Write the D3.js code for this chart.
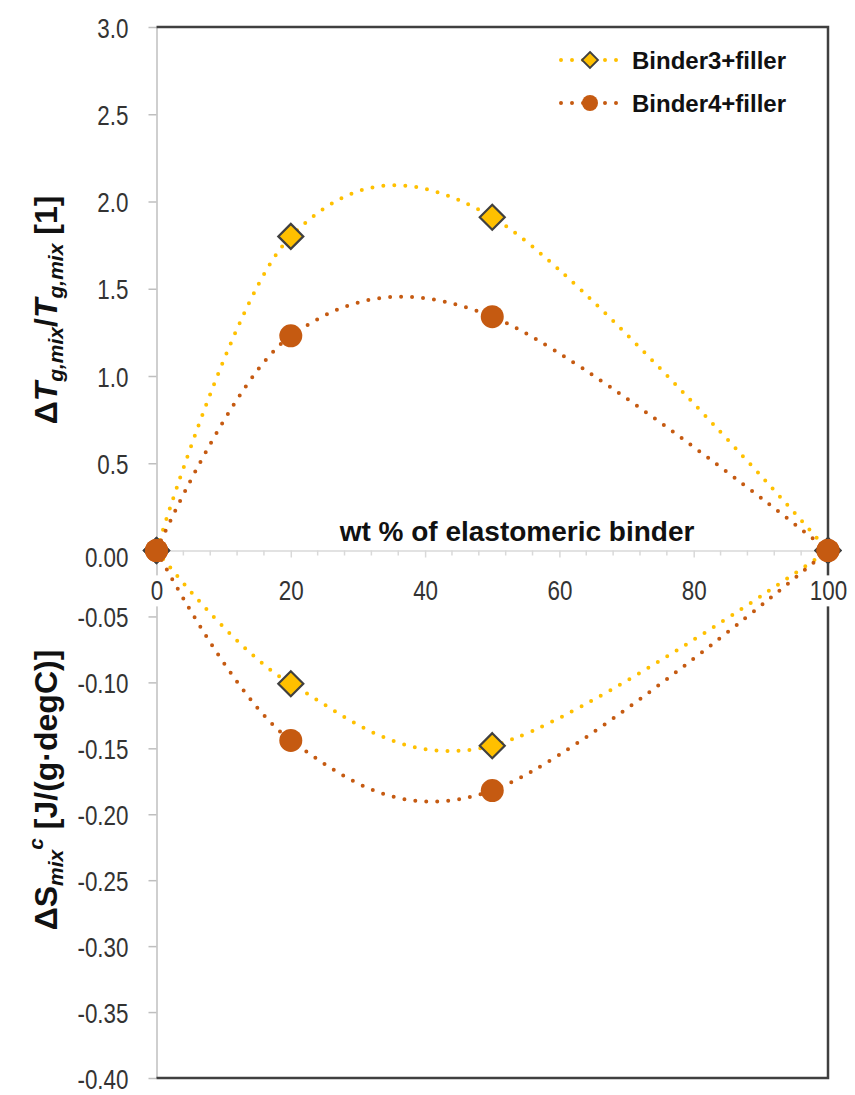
<!DOCTYPE html>
<html>
<head>
<meta charset="utf-8">
<script src="https://cdn.jsdelivr.net/npm/d3@7"></script>
<style>
  html, body { margin: 0; padding: 0; background: #fff; }
  svg { display: block; }
  .tick text { font-family: "Liberation Sans Narrow", "Arial Narrow", "Liberation Sans", Arial, sans-serif; font-size: 28px; fill: #333; }
</style>
</head>
<body>
<svg id="chart" width="855" height="1095"></svg>
<script>
// ---------- data ----------
const seriesNames = ["Binder3+filler", "Binder4+filler"];
const xValues = [0, 20, 50, 100];
const b3Tg = [0, 1.80, 1.91, 0];
const b4Tg = [0, 1.23, 1.34, 0];
const b3S = [0, -0.101, -0.148, 0];
const b4S = [0, -0.144, -0.182, 0];
const xTicks = [0, 20, 40, 60, 80, 100];
const xMinorTicks = [4, 8, 12, 16, 24, 28, 32, 36, 44, 48, 52, 56, 64, 68, 72, 76, 84, 88, 92, 96];
const topTicks = [0.5, 1.0, 1.5, 2.0, 2.5, 3.0];
const bottomTicks = [0, -0.05, -0.10, -0.15, -0.20, -0.25, -0.30, -0.35, -0.40];
const xTitle = "wt % of elastomeric binder";

// ---------- layout ----------
const pLeft = 156.5, pRight = 828, pTop = 27, zeroY = 550.5, pBottom = 1078;
const colors = ["#FFC000", "#C55A11"];

const svg = d3.select("#chart");
const x = d3.scaleLinear().domain([0, 100]).range([pLeft, pRight]);
const yTop = d3.scaleLinear().domain([0, 3]).range([zeroY, pTop]);
const yBot = d3.scaleLinear().domain([-0.4, 0]).range([pBottom, zeroY]);

// condense tick labels (narrow font look)
function condense(sel) {
  sel.each(function () {
    const w = this.getComputedTextLength();
    d3.select(this).attr("textLength", w * 0.8).attr("lengthAdjust", "spacingAndGlyphs");
  });
}

// left axes
const axTop = svg.append("g").attr("transform", `translate(${pLeft},0)`)
  .call(d3.axisLeft(yTop).tickValues(topTicks).tickSize(8).tickSizeOuter(0).tickPadding(20)
    .tickFormat(d => d.toFixed(1)));
const axBot = svg.append("g").attr("transform", `translate(${pLeft},0)`)
  .call(d3.axisLeft(yBot).tickValues(bottomTicks).tickSize(8).tickSizeOuter(0).tickPadding(20)
    .tickFormat(d => (d === 0 ? "0.00" : d.toFixed(2))));
[axTop, axBot].forEach(g => {
  g.select(".domain").attr("stroke", "#BFBFBF").attr("stroke-width", 1.5);
  g.selectAll(".tick line").attr("stroke", "#BFBFBF").attr("stroke-width", 1.5);
  g.selectAll(".tick text").attr("dy", "0.36em").call(condense);
});
axBot.selectAll(".tick").filter(d => d === 0).select("text").attr("dy", "0.58em");

// x axis (at zero line)
const axX = svg.append("g").attr("transform", `translate(0,${zeroY})`)
  .call(d3.axisBottom(x).tickValues(xTicks).tickSize(7).tickSizeOuter(0).tickPadding(23)
    .tickFormat(d => String(d)));
axX.select(".domain").attr("stroke", "#D9D9D9").attr("stroke-width", 1.5);
axX.selectAll(".tick line").attr("stroke", "#D9D9D9").attr("stroke-width", 1.5)
  .attr("y2", d => d === 0 ? 13 : 7);
axX.selectAll(".tick").filter(d => d === 100).select("line").attr("stroke", "none");
axX.selectAll(".tick text").call(condense);
svg.append("g").attr("transform", `translate(0,${zeroY})`)
  .selectAll("line").data(xMinorTicks).join("line")
  .attr("x1", d => x(d)).attr("x2", d => x(d)).attr("y1", 0).attr("y2", 5)
  .attr("stroke", "#D9D9D9").attr("stroke-width", 1.5);

// frame (top, right, bottom)
svg.append("path")
  .attr("d", `M${pLeft},${pTop}H${pRight}V${pBottom}H${pLeft}`)
  .attr("fill", "none").attr("stroke", "#404040").attr("stroke-width", 2.5);

// white backgrounds for x labels, then re-append labels on top
axX.selectAll(".tick").each(function () {
  const t = d3.select(this).select("text");
  const bb = t.node().getBBox();
  d3.select(this).insert("rect", "text")
    .attr("x", bb.x - 3).attr("y", bb.y).attr("width", bb.width + 6).attr("height", bb.height)
    .attr("fill", "#fff");
});
svg.node().appendChild(axX.node());

// x title
svg.append("text")
  .attr("x", 517).attr("y", 541).attr("text-anchor", "middle")
  .attr("font-family", "'Liberation Sans', Arial, sans-serif")
  .attr("font-weight", "bold").attr("font-size", 28).attr("fill", "#111")
  .text(xTitle);

// curves
const lineTop = d3.line().x((d, i) => x(xValues[i])).y(d => yTop(d)).curve(d3.curveCardinal.tension(0));
const lineBot = d3.line().x((d, i) => x(xValues[i])).y(d => yBot(d)).curve(d3.curveCardinal.tension(0));

const plotData = [
  { vals: b3Tg, line: lineTop, y: yTop, s: 0 },
  { vals: b4Tg, line: lineTop, y: yTop, s: 1 },
  { vals: b3S, line: lineBot, y: yBot, s: 0 },
  { vals: b4S, line: lineBot, y: yBot, s: 1 }
];
plotData.forEach(p => {
  svg.append("path").attr("d", p.line(p.vals))
    .attr("fill", "none").attr("stroke", colors[p.s]).attr("stroke-width", 4)
    .attr("stroke-linecap", "round").attr("stroke-dasharray", "0 11");
});

function drawMarker(g, s, cx, cy, big) {
  if (s === 0) {
    const h = big ? 12.5 : 8;
    g.append("path")
      .attr("d", `M${cx},${cy - h}L${cx + h},${cy}L${cx},${cy + h}L${cx - h},${cy}Z`)
      .attr("fill", colors[0]).attr("stroke", "#404040").attr("stroke-width", big ? 2.2 : 1.8)
      .attr("stroke-linejoin", "miter");
  } else {
    g.append("circle").attr("cx", cx).attr("cy", cy).attr("r", big ? 11.5 : 8)
      .attr("fill", colors[1]);
  }
}
const mg = svg.append("g");
[0, 2, 1, 3].forEach(k => {
  const p = plotData[k];
  p.vals.forEach((v, i) => drawMarker(mg, p.s, x(xValues[i]), p.y(v), true));
});

// legend
const legY = [60, 103];
seriesNames.forEach((name, i) => {
  svg.append("line").attr("x1", 561).attr("x2", 619).attr("y1", legY[i]).attr("y2", legY[i])
    .attr("stroke", colors[i]).attr("stroke-width", 4)
    .attr("stroke-linecap", "round").attr("stroke-dasharray", "0 11");
  drawMarker(svg, i, 590, legY[i], false);
  svg.append("text").attr("x", 632).attr("y", legY[i] + 8.5)
    .attr("font-family", "'Liberation Sans', Arial, sans-serif")
    .attr("font-weight", "bold").attr("font-size", 24).attr("fill", "#111")
    .text(name);
});

// y titles
const ff = "'Liberation Sans', Arial, sans-serif";
const t1 = svg.append("text")
  .attr("transform", "translate(57,310) rotate(-90)")
  .attr("text-anchor", "middle").attr("font-family", ff)
  .attr("font-weight", "bold").attr("font-size", 32).attr("fill", "#111");
t1.append("tspan").text("Δ");
t1.append("tspan").attr("font-style", "italic").text("T");
t1.append("tspan").attr("font-style", "italic").attr("font-size", 21).attr("dy", 6).text("g,mix");
t1.append("tspan").attr("dy", -6).text("/");
t1.append("tspan").attr("font-style", "italic").text("T");
t1.append("tspan").attr("font-style", "italic").attr("font-size", 21).attr("dy", 6).text("g,mix");
t1.append("tspan").attr("dy", -6).text(" [1]");

const t2 = svg.append("text")
  .attr("transform", "translate(57,790) rotate(-90)")
  .attr("text-anchor", "middle").attr("font-family", ff)
  .attr("font-weight", "bold").attr("font-size", 32).attr("fill", "#111");
t2.append("tspan").text("ΔS");
t2.append("tspan").attr("font-style", "italic").attr("font-size", 21).attr("dy", 6).text("mix");
t2.append("tspan").attr("font-style", "italic").attr("font-size", 21).attr("dy", -20).text("c");
t2.append("tspan").attr("dy", 14).text(" [J/(g·degC)]");
</script>
</body>
</html>
